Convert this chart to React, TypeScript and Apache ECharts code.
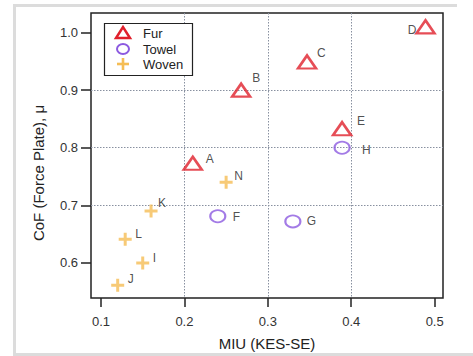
import { useEffect, useRef } from 'react';
import * as echarts from 'echarts';

const seriesNames = ['Fur', 'Towel', 'Woven'];
const furNames = ['A', 'B', 'C', 'D', 'E'];
const furMiu = [0.21, 0.268, 0.347, 0.489, 0.389];
const furCof = [0.773, 0.9, 0.949, 1.01, 0.833];
const towelNames = ['F', 'G', 'H'];
const towelMiu = [0.24, 0.33, 0.389];
const towelCof = [0.681, 0.672, 0.8];
const wovenNames = ['I', 'J', 'K', 'L', 'N'];
const wovenMiu = [0.15, 0.12, 0.16, 0.129, 0.25];
const wovenCof = [0.6, 0.561, 0.69, 0.641, 0.74];
const xTicks = [0.1, 0.2, 0.3, 0.4, 0.5];
const yTicks = [0.6, 0.7, 0.8, 0.9, 1.0];
const xTitle = 'MIU (KES-SE)';
const yTitle = 'CoF (Force Plate), μ';

const labelOffset: Record<string, [number, number]> = {
  A: [13, -4], B: [11, -12], C: [10, -9], D: [-9, 3], E: [15, -8],
  F: [15, 1], G: [14, 0], H: [20, 2],
  I: [10, -5], J: [10, -6], K: [7, -8], L: [10, -5], N: [8, -6],
};

const FONT = 'Liberation Sans, Arial, sans-serif';
const RED = '#e0202c';
const PURPLE = '#8c5ae0';
const ORANGE = '#f5bd55';
const PLUS = 'path://M5,0 L8,0 L8,5 L13,5 L13,8 L8,8 L8,13 L5,13 L5,8 L0,8 L0,5 L5,5 Z';

function pts(names: string[], xs: number[], ys: number[]) {
  return names.map((n, i) => {
    const off = labelOffset[n] || [10, -5];
    return {
      name: n,
      value: [xs[i], ys[i]],
      label: {
        show: true,
        formatter: n,
        position: 'inside',
        align: off[0] < 0 ? 'right' : 'left',
        verticalAlign: 'middle',
        offset: off,
        color: '#222',
        fontSize: 12,
        fontFamily: FONT,
      },
    };
  });
}

export default function App() {
  const ref = useRef<HTMLDivElement>(null);
  useEffect(() => {
    document.body.style.margin = '0';
    const chart = echarts.init(ref.current!, undefined, { renderer: 'svg' });
    const lx = 123;
    const rows = [33, 49, 64];
    chart.setOption({
      animation: false,
      backgroundColor: '#fff',
      textStyle: { fontFamily: FONT },
      grid: { left: 91, right: 30, top: 13, bottom: 52, show: true, borderColor: '#222', borderWidth: 1.5, backgroundColor: 'transparent' },
      xAxis: {
        type: 'value', min: 0.088, max: 0.51,
        name: xTitle, nameLocation: 'middle', nameGap: 38,
        nameTextStyle: { fontSize: 15, color: '#222', fontFamily: FONT },
        axisLine: { show: false },
        axisTick: { show: true, length: 9, customValues: xTicks, lineStyle: { color: '#222', width: 1.5 } },
        axisLabel: { customValues: xTicks, margin: 17, fontSize: 13, color: '#333', fontFamily: FONT, formatter: (v: number) => v.toFixed(1) },
        splitLine: { show: true, showMinLine: false, showMaxLine: false, lineStyle: { type: [1.5, 1.5], color: '#8890a0', width: 1 } },
      },
      yAxis: {
        type: 'value', min: 0.539, max: 1.034,
        axisLine: { show: false },
        axisTick: { show: true, length: 10, customValues: yTicks, lineStyle: { color: '#222', width: 1.5 } },
        axisLabel: { customValues: yTicks, margin: 13, fontSize: 13, color: '#333', fontFamily: FONT, formatter: (v: number) => v.toFixed(1) },
        splitLine: { show: true, showMinLine: false, showMaxLine: false, lineStyle: { type: [1.5, 1.5], color: '#8890a0', width: 1 } },
      },
      series: [
        {
          name: seriesNames[0], type: 'scatter', symbol: 'triangle', symbolSize: [18, 13],
          itemStyle: { color: 'transparent', borderColor: RED, borderWidth: 2.5 },
          data: pts(furNames, furMiu, furCof),
        },
        {
          name: seriesNames[1], type: 'scatter', symbol: 'circle', symbolSize: [15, 12],
          itemStyle: { color: 'transparent', borderColor: PURPLE, borderWidth: 2 },
          data: pts(towelNames, towelMiu, towelCof),
        },
        {
          name: seriesNames[2], type: 'scatter', symbol: PLUS, symbolSize: [13, 13],
          itemStyle: { color: ORANGE },
          data: pts(wovenNames, wovenMiu, wovenCof),
        },
      ],
      graphic: [
        { type: 'polyline', z: 100, silent: true, shape: { points: [[457, 5.5], [14.5, 5.5], [14.5, 354.5], [473, 354.5]] }, style: { stroke: '#dcdcdc', lineWidth: 3, fill: null } },
        { type: 'rect', z: 100, shape: { x: 104.5, y: 23.5, width: 88, height: 52 }, style: { fill: '#fff', stroke: '#222', lineWidth: 1.2 } },
        { type: 'polygon', z: 101, shape: { points: [[lx - 7, rows[0] + 5], [lx + 7, rows[0] + 5], [lx, rows[0] - 6]] }, style: { fill: 'none', stroke: RED, lineWidth: 2.5 } },
        { type: 'ellipse', z: 101, shape: { cx: lx, cy: rows[1], rx: 6, ry: 5 }, style: { fill: 'none', stroke: PURPLE, lineWidth: 2 } },
        { type: 'rect', z: 101, shape: { x: lx - 6, y: rows[2] - 1.3, width: 12, height: 2.6 }, style: { fill: ORANGE } },
        { type: 'rect', z: 101, shape: { x: lx - 1.3, y: rows[2] - 6, width: 2.6, height: 12 }, style: { fill: ORANGE } },
        ...seriesNames.map((n, i) => ({
          type: 'text', z: 101, x: 143, y: rows[i],
          style: { text: n, fontSize: 13, fill: '#222', fontFamily: FONT, verticalAlign: 'middle', align: 'left' },
        })),
        {
          type: 'text', z: 100, x: 38, y: 173, rotation: Math.PI / 2,
          style: { text: yTitle, fontSize: 15, fill: '#222', fontFamily: FONT, align: 'center', verticalAlign: 'middle' },
        },
      ],
    });
    return () => chart.dispose();
  }, []);
  return <div ref={ref} style={{ width: 473, height: 356 }} />;
}
